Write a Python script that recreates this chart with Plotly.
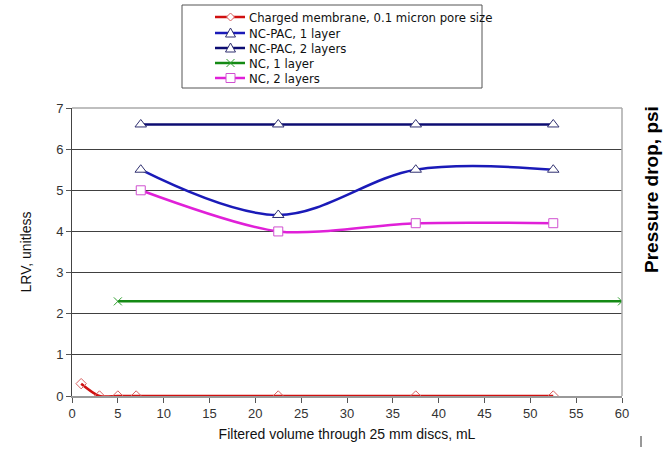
import plotly.graph_objects as go

charged_x = [1, 3, 5, 7, 22.5, 37.5, 52.5]
charged_y = [0.3, 0, 0, 0, 0, 0, 0]
pac_x = [7.5, 22.5, 37.5, 52.5]
pac1_y = [5.5, 4.4, 5.5, 5.5]
pac2_y = [6.6, 6.6, 6.6, 6.6]
nc1_x = [5, 60]
nc1_y = [2.3, 2.3]
nc2_x = [7.5, 22.5, 37.5, 52.5]
nc2_y = [5.0, 4.0, 4.2, 4.2]

series_names = ["Charged membrane, 0.1 micron pore size", "NC-PAC, 1 layer",
                "NC-PAC, 2 layers", "NC, 1 layer", "NC, 2 layers"]
x_ticks = list(range(0, 61, 5))
y_ticks = list(range(0, 8))

FONT = "Liberation Sans, Arial, sans-serif"
NARROW = "Liberation Sans Narrow, DejaVu Sans Condensed, Liberation Sans, sans-serif"
RED, RED_M = "#D01010", "#D86060"
BLUE, NAVY, TRI = "#1A1AB8", "#0C0C72", "#303070"
GREEN, GREEN_M = "#148A14", "#30A030"
MAG, MAG_M = "#E020D8", "#D050D0"

fig = go.Figure()
fig.add_trace(go.Scatter(x=charged_x, y=charged_y, name=series_names[0],
                         mode="lines+markers", line=dict(color=RED, width=2.5, shape="spline", smoothing=0.8),
                         marker=dict(symbol="diamond-open", size=8, color=RED_M, line=dict(width=1))))
fig.add_trace(go.Scatter(x=pac_x, y=pac1_y, name=series_names[1],
                         mode="lines+markers", line=dict(color=BLUE, width=2.5, shape="spline", smoothing=1),
                         marker=dict(symbol="triangle-up", size=10, color="white", line=dict(width=1, color=TRI))))
fig.add_trace(go.Scatter(x=pac_x, y=pac2_y, name=series_names[2],
                         mode="lines+markers", line=dict(color=NAVY, width=2.5),
                         marker=dict(symbol="triangle-up", size=10, color="white", line=dict(width=1, color=TRI))))
fig.add_trace(go.Scatter(x=nc1_x, y=nc1_y, name=series_names[3],
                         mode="lines+markers", line=dict(color=GREEN, width=2.5),
                         marker=dict(symbol="x-thin-open", size=8, color=GREEN_M, line=dict(width=1, color=GREEN_M))))
fig.add_trace(go.Scatter(x=nc2_x, y=nc2_y, name=series_names[4],
                         mode="lines+markers", line=dict(color=MAG, width=2.5, shape="spline", smoothing=0.8),
                         marker=dict(symbol="square", size=9, color="white", line=dict(width=1, color=MAG_M))))

L, R, T, B = 72, 41, 108, 53
W, H = 663, 449
PW, PH = W - L - R, H - T - B


def px(X):
    return (X - L) / PW


def py(Y):
    return (H - B - Y) / PH


shapes = []
annotations = []
shapes.append(dict(type="line", xref="paper", yref="paper", x0=0, x1=1, y0=1, y1=1,
                   line=dict(color="#AAAAAA", width=1.5)))
shapes.append(dict(type="line", xref="paper", yref="paper", x0=1, x1=1, y0=0, y1=1,
                   line=dict(color="#AAAAAA", width=1.5)))
# legend box
shapes.append(dict(type="rect", xref="paper", yref="paper", x0=px(182), x1=px(482), y0=py(88), y1=py(5),
                   line=dict(color="#555555", width=1), fillcolor="white", layer="above"))
rows = [17, 33, 48, 63, 78]
line_cols = [RED, BLUE, NAVY, GREEN, MAG]
for i, (name, yy, lc) in enumerate(zip(series_names, rows, line_cols)):
    shapes.append(dict(type="line", xref="paper", yref="paper", x0=px(215), x1=px(245),
                       y0=py(yy), y1=py(yy), line=dict(color=lc, width=2.5)))
    anc = dict(xref="paper", yref="paper", xsizemode="pixel", ysizemode="pixel",
               xanchor=px(230.5), yanchor=py(yy))
    if i == 0:
        shapes.append(dict(type="path", path="M 0,4 L 4,0 L 0,-4 L -4,0 Z",
                           line=dict(color=RED_M, width=1), fillcolor="white", **anc))
    elif i in (1, 2):
        shapes.append(dict(type="path", path="M -5,-4 L 5,-4 L 0,5 Z",
                           line=dict(color=TRI, width=1), fillcolor="white", **anc))
    elif i == 3:
        shapes.append(dict(type="path", path="M -4,-4 L 4,4 M -4,4 L 4,-4",
                           line=dict(color=GREEN_M, width=1), **anc))
    else:
        shapes.append(dict(type="path", path="M -4.5,-4.5 L 4.5,-4.5 L 4.5,4.5 L -4.5,4.5 Z",
                           line=dict(color=MAG_M, width=1), fillcolor="white", **anc))
    annotations.append(dict(text=name, xref="paper", yref="paper", x=px(247), y=py(yy + 0.5),
                            xanchor="left", yanchor="middle", showarrow=False,
                            font=dict(family=NARROW, size=13, color="#111111")))
shapes.append(dict(type="line", xref="paper", yref="paper", x0=px(641), x1=px(641), y0=py(436), y1=py(447),
                   line=dict(color="#333333", width=1)))

annotations.append(dict(text="<b>Pressure drop, psi</b>", xref="paper", yref="paper",
                        x=px(651), y=py(190), xanchor="center", yanchor="middle",
                        textangle=-90, showarrow=False,
                        font=dict(family=FONT, size=19, color="black")))

fig.update_layout(
    width=W, height=H,
    margin=dict(l=L, r=R, t=T, b=B, autoexpand=False),
    paper_bgcolor="white", plot_bgcolor="white",
    font=dict(family=FONT, size=13, color="#222"),
    showlegend=False,
    xaxis=dict(range=[0, 60], tickvals=x_ticks, showgrid=False, showline=True, linecolor="#999999",
               linewidth=1.5, ticks="outside", ticklen=5, tickcolor="#555", zeroline=False,
               title=dict(text="Filtered volume through 25 mm discs, mL", font=dict(size=14, color="#111"),
                          standoff=9),
               tickfont=dict(size=13, color="#333")),
    yaxis=dict(range=[0, 7], tickvals=y_ticks, showgrid=True, gridcolor="#404040", gridwidth=1,
               showline=True, linecolor="#444444", linewidth=1, ticks="outside", ticklen=5,
               tickcolor="#555", zeroline=False,
               title=dict(text="LRV, unitless", font=dict(size=14, color="#111"), standoff=21),
               tickfont=dict(size=13, color="#333")),
    shapes=shapes,
    annotations=annotations,
)
fig.write_html("out.html", config={"displayModeBar": False},
               post_script="document.body.style.margin='0px';document.body.style.overflow='hidden';")
